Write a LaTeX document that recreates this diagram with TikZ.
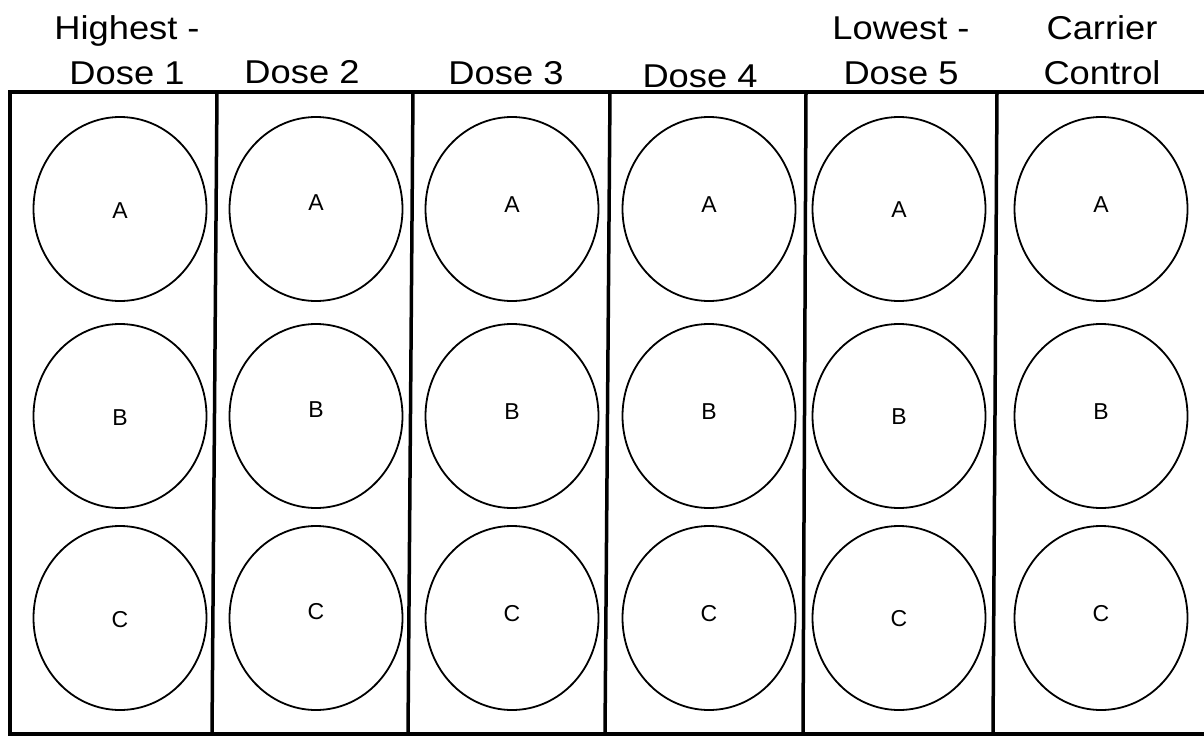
\documentclass[tikz,border=0pt]{standalone}
\usepackage{fontspec}
\setmainfont{Liberation Sans}
\newfontfamily\headfont{Liberation Sans}[FakeStretch=1.1]
\usetikzlibrary{shapes.geometric}
\tikzset{
  plate/.style={line width=3.5pt,line join=miter},
  divider/.style={line width=3.5pt},
  well/.style={draw,ellipse,line width=1.8pt,minimum width=173pt,minimum height=184pt,inner sep=0pt},
  welltag/.style={font=\fontsize{23}{27}\selectfont,inner sep=0pt},
  head/.style={font=\headfont\fontsize{33}{45}\selectfont,align=center,inner sep=0pt,anchor=base},
}
\begin{document}
\begin{tikzpicture}[x=1pt,y=-1pt]
\useasboundingbox (0,0) rectangle (1204,736);
% plate outline and column walls
\draw[plate] (10,92) rectangle (1212,734);
\foreach \xt/\xb in {217/212,413/408,610/605,806/803,997/993}
  \draw[divider] (\xt,92) -- (\xb,734);
% column headings
\node[head] (h1) at (127,84) {Highest -\\Dose 1};
\node[head] (h2) at (302,83) {Dose 2};
\node[head] (h3) at (506,84) {Dose 3};
\node[head] (h4) at (700,87) {Dose 4};
\node[head] (h5) at (901,84) {Lowest -\\Dose 5};
\node[head] (h6) at (1102,84) {Carrier\\Control};
% wells A, B, C in each column
\foreach \c/\x/\s in {1/120/2,2/316/-6,3/512/-4,4/709/-4,5/899/1,6/1101/-4}
  \foreach \r/\y in {A/209,B/416,C/618} {
    \node[well] (w\c\r) at (\x,\y) {};
    \node[welltag] (t\c\r) at (\x,\y+\s) {\r};
  }
\end{tikzpicture}
\end{document}
